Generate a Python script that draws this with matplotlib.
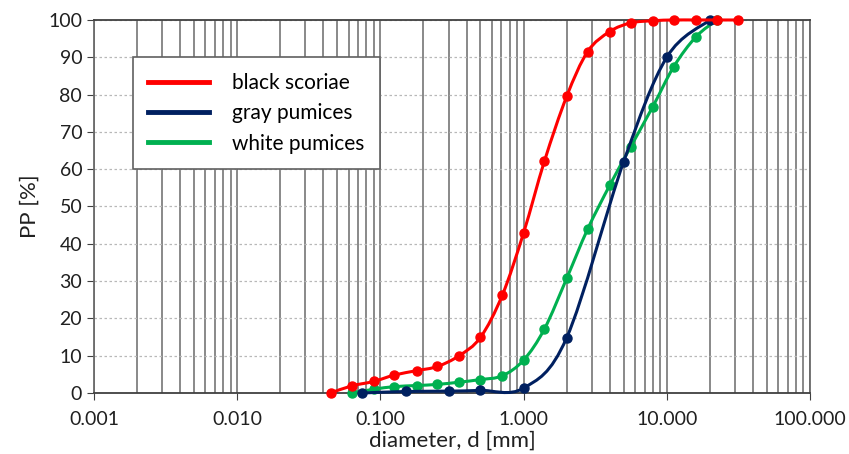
import numpy as np
import matplotlib
matplotlib.use('Agg')
import matplotlib.pyplot as plt
from matplotlib.path import Path
from matplotlib.patches import PathPatch
from matplotlib.ticker import LogLocator, FixedLocator, FixedFormatter, NullFormatter

plt.rcParams['font.family'] = ['Lato', 'DejaVu Sans']

# sieve data
black_d = [0.045, 0.063, 0.09, 0.125, 0.18, 0.25, 0.355, 0.5, 0.71, 1.0,
           1.4, 2.0, 2.8, 4.0, 5.6, 8.0, 11.2, 16.0, 22.4, 31.5]
black_pp = [0.0, 1.9, 3.1, 4.8, 6.0, 7.1, 10.0, 14.9, 26.2, 42.9,
            62.2, 79.5, 91.5, 96.9, 99.2, 99.8, 100.0, 100.0, 100.0, 100.0]

gray_d = [0.075, 0.15, 0.3, 0.5, 1.0, 2.0, 5.0, 10.0, 20.0]
gray_pp = [0.0, 0.4, 0.5, 0.7, 1.3, 14.8, 62.0, 90.0, 100.0]

white_d = [0.063, 0.09, 0.125, 0.18, 0.25, 0.355, 0.5, 0.71, 1.0, 1.4,
           2.0, 2.8, 4.0, 5.6, 8.0, 11.2, 16.0, 22.4]
white_pp = [0.0, 1.0, 1.7, 2.0, 2.3, 2.9, 3.6, 4.6, 8.8, 17.2,
            30.7, 43.9, 55.7, 66.0, 76.8, 87.5, 95.5, 100.0]

x_ticks = [0.001, 0.01, 0.1, 1, 10, 100]
x_labels = ['0.001', '0.010', '0.100', '1.000', '10.000', '100.000']


def smooth_path(xs, ys):
    # Catmull-Rom style bezier through the points (in log-x space), like Excel smoothed lines
    lx = np.log10(xs)
    pts = np.column_stack([lx, ys])
    n = len(pts)
    verts = [pts[0]]
    codes = [Path.MOVETO]
    for i in range(n - 1):
        p0 = pts[max(i - 1, 0)]
        p1 = pts[i]
        p2 = pts[i + 1]
        p3 = pts[min(i + 2, n - 1)]
        c1 = p1 + (p2 - p0) / 6.0
        c2 = p2 - (p3 - p1) / 6.0
        verts += [c1, c2, p2]
        codes += [Path.CURVE4] * 3
    verts = np.array(verts)
    verts[:, 0] = 10 ** verts[:, 0]
    return Path(verts, codes)


fig = plt.figure(figsize=(8.49, 4.54), dpi=100)
ax = fig.add_axes([0.1107, 0.1344, 0.8433, 0.8216])
ax.set_xscale('log')
ax.set_xlim(0.001, 100)
ax.set_ylim(0, 100)

# (x, y, colour, label, z)  red drawn on top, then navy, then green
series = [
    (black_d, black_pp, '#FF0000', 'black scoriae', 7),
    (gray_d, gray_pp, '#002060', 'gray pumices', 5),
    (white_d, white_pp, '#00B050', 'white pumices', 3),
]
for d, pp, col, lab, z in series:
    patch = PathPatch(smooth_path(d, pp), facecolor='none', edgecolor=col, lw=2.2, zorder=z,
                      clip_on=False)
    ax.add_patch(patch)
    ax.plot(d, pp, 'o', color=col, ms=6.5, zorder=z + 0.5, clip_on=False)
    ax.plot([], [], color=col, lw=3.5, label=lab)

# gridlines
ax.xaxis.set_major_locator(FixedLocator(x_ticks))
ax.xaxis.set_major_formatter(FixedFormatter(x_labels))
ax.xaxis.set_minor_locator(LogLocator(base=10, subs=np.arange(2, 10)))
ax.xaxis.set_minor_formatter(NullFormatter())
ax.set_yticks(np.arange(0, 101, 10))
ax.grid(True, which='both', axis='x', color='#6a6a6a', lw=1.1, ls='-', zorder=1)
ax.grid(True, which='major', axis='y', color='#b8b8b8', lw=0.9, ls=(0, (2, 2)), zorder=1)
ax.set_axisbelow(True)
ax.tick_params(axis='x', which='major', length=5, color='#404040', labelsize=14, pad=8, labelcolor='#202020')
ax.tick_params(axis='x', which='minor', length=0)
ax.tick_params(axis='y', length=5, color='#404040', labelsize=14, labelcolor='#202020')
for s in ax.spines.values():
    s.set_color('#404040')
    s.set_linewidth(1.3)
ax.spines['left'].set_color('#6a6a6a')
ax.spines['right'].set_color('#6a6a6a')

ax.set_xlabel('diameter, d [mm]', fontsize=16, color='#202020', labelpad=2)
ax.set_ylabel('PP [%]', fontsize=16, color='#202020', labelpad=6)

leg = ax.legend(loc='upper left', bbox_to_anchor=(0.054, 0.9), fontsize=15,
                frameon=True, fancybox=False, edgecolor='#606060', framealpha=1,
                handlelength=2.9, handletextpad=1.1, borderpad=0.75, labelspacing=0.5,
                borderaxespad=0)
leg.get_frame().set_linewidth(1.2)
leg.set_zorder(10)

fig.savefig('out.png', dpi=100)
